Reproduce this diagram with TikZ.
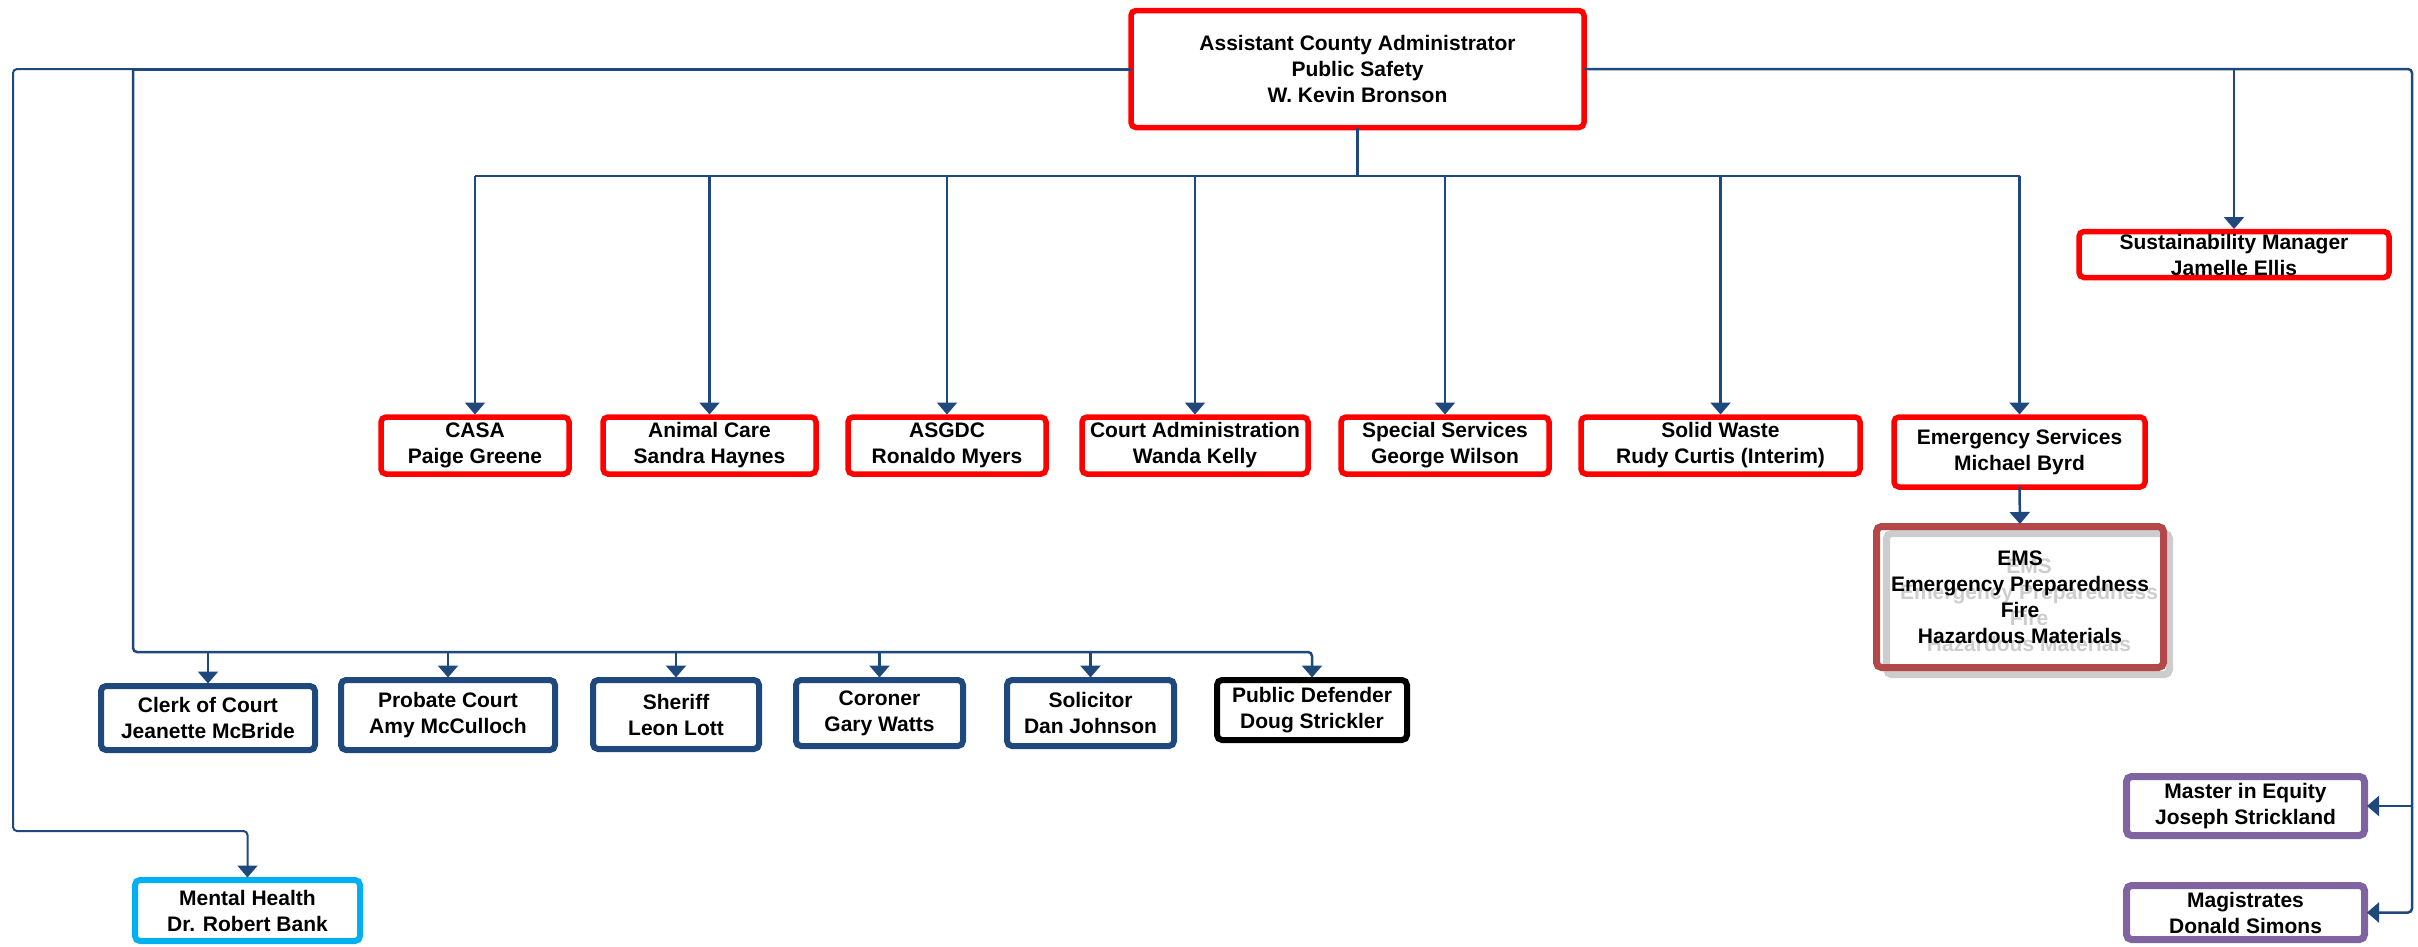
\documentclass[tikz,border=0pt]{standalone}
\usepackage{fontspec}
\setmainfont{Liberation Sans}
\usetikzlibrary{arrows.meta}
\definecolor{navy}{RGB}{31,73,125}
\definecolor{redb}{RGB}{255,0,0}
\definecolor{emsred}{RGB}{180,72,72}
\definecolor{purp}{RGB}{128,100,162}
\definecolor{cyanb}{RGB}{0,176,240}
\definecolor{shad}{RGB}{205,205,205}
\tikzset{
  box/.style={draw, rounded corners=5pt, inner sep=0pt, outer sep=0pt, align=center,
    font=\fontsize{21}{26}\selectfont\bfseries, text=black},
  redbox/.style={box, draw=redb, line width=5.5pt},
  bluebox/.style={box, draw=navy, line width=6pt},
  blackbox/.style={box, draw=black, line width=6pt},
  purpbox/.style={box, draw=purp, line width=7pt},
  cyanbox/.style={box, draw=cyanb, line width=6pt},
  emsbox/.style={box, draw=emsred, line width=7pt},
  shadbox/.style={box, draw=shad, line width=7pt},
  ghost/.style={inner sep=0pt, align=center, font=\fontsize{21}{26}\selectfont\bfseries, text=shad},
  conn/.style={draw=navy, line width=2.5pt},
  arr/.style={conn, -{Triangle[width=20pt,length=12pt]}, shorten >=2.5pt},
}
\begin{document}
\begin{tikzpicture}[x=1pt,y=-1pt]
\useasboundingbox (0,0) rectangle (2418,946);
% top
\node[redbox, minimum width=453pt, minimum height=117pt] (top) at (1357.5,69) {Assistant County Administrator\\Public Safety\\W. Kevin Bronson};
\node[redbox, minimum width=310pt, minimum height=46pt] (sus) at (2234,254.5) {Sustainability Manager\\Jamelle Ellis};
% middle row
\node[redbox, minimum width=188pt, minimum height=57pt] (casa) at (475,445.5) {CASA\\Paige Greene};
\node[redbox, minimum width=213pt, minimum height=57pt] (animal) at (709.5,445.5) {Animal Care\\Sandra Haynes};
\node[redbox, minimum width=198pt, minimum height=57pt] (asgdc) at (947,445.5) {ASGDC\\Ronaldo Myers};
\node[redbox, minimum width=226pt, minimum height=57pt] (court) at (1195,445.5) {Court Administration\\Wanda Kelly};
\node[redbox, minimum width=208pt, minimum height=57pt] (special) at (1445,445.5) {Special Services\\George Wilson};
\node[redbox, minimum width=279pt, minimum height=57pt] (solid) at (1720.5,445.5) {Solid Waste\\Rudy Curtis (Interim)};
\node[redbox, minimum width=251pt, minimum height=70pt] (emerg) at (2019.5,452) {Emergency Services\\Michael Byrd};
% EMS
\node[shadbox, minimum width=283pt, minimum height=141pt] (emsshadow) at (2028,604) {};
\node[ghost] (emsghost) at (2029,605) {EMS\\Emergency Preparedness\\Fire\\Hazardous Materials};
\node[emsbox, minimum width=287pt, minimum height=141pt] (ems) at (2020,597) {EMS\\Emergency Preparedness\\Fire\\Hazardous Materials};
% bottom row
\node[bluebox, minimum width=214pt, minimum height=64pt] (clerk) at (208,718) {Clerk of Court\\Jeanette McBride};
\node[bluebox, minimum width=214pt, minimum height=70pt] (probate) at (448,715) {Probate Court\\Amy McCulloch};
\node[bluebox, minimum width=166pt, minimum height=69pt] (sheriff) at (676,714.5) {Sheriff\\Leon Lott};
\node[bluebox, minimum width=167pt, minimum height=66pt] (coroner) at (879.5,713) {Coroner\\Gary Watts};
\node[bluebox, minimum width=167pt, minimum height=66pt] (solicitor) at (1090.5,713) {Solicitor\\Dan Johnson};
\node[blackbox, minimum width=190pt, minimum height=60pt] (pd) at (1312,710) {Public Defender\\Doug Strickler};
% right column
\node[purpbox, minimum width=238pt, minimum height=59pt] (master) at (2245.5,806) {Master in Equity\\Joseph Strickland};
\node[purpbox, minimum width=238pt, minimum height=54pt] (mag) at (2245.5,912.5) {Magistrates\\Donald Simons};
% mental health
\node[cyanbox, minimum width=225pt, minimum height=61pt] (mh) at (247.5,910.5) {Mental Health\\Dr. Robert Bank};
% coordinates
\coordinate (I1) at (133,69);
\coordinate (L1) at (13,69);
\coordinate (L2) at (13,831);
\coordinate (busB) at (133,652);
\coordinate (busM) at (1357.5,176);
\coordinate (R1) at (2412,69);
% connectors left
\draw[conn, line width=3pt] (top.west) -- (I1);
\draw[arr, line width=2pt, rounded corners=4pt] (I1) -- (L1) -- (L2) -| (mh.north);
\draw[arr, rounded corners=4pt] (I1) -- (busB) -| (pd.north);
\draw[arr] (clerk.north |- busB) -- (clerk.north);
\draw[arr] (probate.north |- busB) -- (probate.north);
\draw[arr] (sheriff.north |- busB) -- (sheriff.north);
\draw[arr] (coroner.north |- busB) -- (coroner.north);
\draw[arr] (solicitor.north |- busB) -- (solicitor.north);
% connectors middle
\draw[conn] (top.south) -- (busM);
\draw[conn] (casa.north |- busM) -- (emerg.north |- busM);
\draw[arr] (casa.north |- busM) -- (casa.north);
\draw[arr] (animal.north |- busM) -- (animal.north);
\draw[arr] (asgdc.north |- busM) -- (asgdc.north);
\draw[arr] (court.north |- busM) -- (court.north);
\draw[arr] (special.north |- busM) -- (special.north);
\draw[arr] (solid.north |- busM) -- (solid.north);
\draw[arr] (emerg.north |- busM) -- (emerg.north);
\draw[arr] (emerg.south) -- (ems.north);
% connectors right
\draw[arr, rounded corners=4pt] (top.east) -- (R1) |- (mag.east);
\draw[arr] (R1 |- master.east) -- (master.east);
\draw[arr] (sus.north |- R1) -- (sus.north);
\end{tikzpicture}
\end{document}
